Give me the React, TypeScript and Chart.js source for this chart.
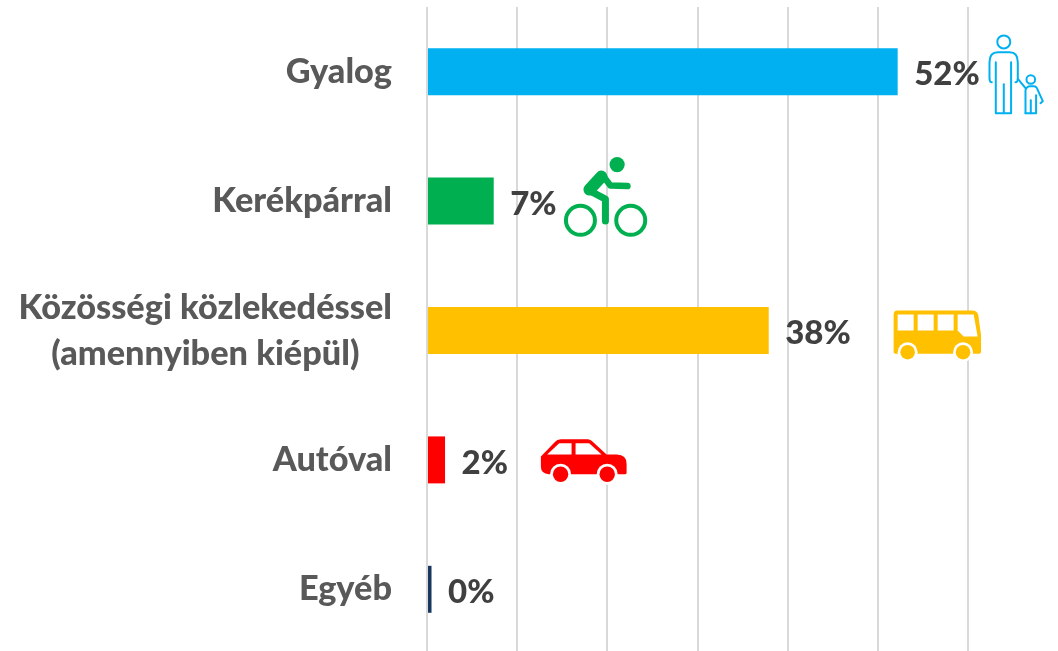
import React, { useEffect, useRef } from "react";
import { Chart, registerables } from "chart.js";

Chart.register(...registerables);

const categories: string[][] = [
  ["Gyalog"],
  ["Kerékpárral"],
  ["Közösségi közlekedéssel", "(amennyiben kiépül)\u00a0\u00a0\u00a0\u00a0"],
  ["Autóval"],
  ["Egyéb"],
];
const shares = [52.2, 7.4, 37.9, 2.0, 0.5];
const shareLabels = ["52%", "7%", "38%", "2%", "0%"];
const barColors = ["#00b0f0", "#00b050", "#ffc000", "#ff0000", "#17375e"];
const gridStops = [0, 10, 20, 30, 40, 50, 60];
const iconNames = ["person", "bike", "bus", "car"];
const iconAt = [65.3, 19.9, 56.6, 17.4];

const FONT = 'Lato, sans-serif';

type Ctx = CanvasRenderingContext2D;

const line = (c: Ctx, pts: number[][]) => {
  c.beginPath();
  pts.forEach(([x, y], i) => (i ? c.lineTo(x, y) : c.moveTo(x, y)));
  c.stroke();
};
const disc = (c: Ctx, x: number, y: number, r: number, color: string) => {
  c.fillStyle = color;
  c.beginPath();
  c.arc(x, y, r, 0, Math.PI * 2);
  c.fill();
};
const poly = (c: Ctx, pts: number[][], color: string) => {
  c.fillStyle = color;
  c.beginPath();
  pts.forEach(([x, y], i) => (i ? c.lineTo(x, y) : c.moveTo(x, y)));
  c.closePath();
  c.fill();
};

// Icon outlines, relative to each icon's anchor point.
const icons: Record<string, (c: Ctx) => void> = {
  person(c) {
    c.translate(-1017, -71.5);
    c.strokeStyle = "#00b0f0";
    c.lineWidth = 2;
    c.lineCap = "round";
    c.lineJoin = "round";
    c.beginPath();
    c.arc(1005, 41.7, 6.5, 0, Math.PI * 2);
    c.stroke();
    c.beginPath();
    c.moveTo(993, 82);
    c.quadraticCurveTo(990.7, 82, 990.7, 78);
    c.lineTo(990.7, 62);
    c.quadraticCurveTo(990.7, 52, 999, 52);
    c.lineTo(1011, 52);
    c.quadraticCurveTo(1019, 52, 1019, 62);
    c.lineTo(1019, 78);
    c.quadraticCurveTo(1019, 82, 1016.7, 82);
    c.stroke();
    line(c, [[997, 62], [997, 113], [1012.3, 113], [1012.3, 62]]);
    line(c, [[1005, 84], [1005, 113]]);
    c.beginPath();
    c.arc(1032, 79.3, 4.3, 0, Math.PI * 2);
    c.stroke();
    line(c, [[1019.3, 79], [1026.7, 88]]);
    c.beginPath();
    c.moveTo(1026.7, 113);
    c.lineTo(1026.7, 90);
    c.quadraticCurveTo(1028, 86, 1031, 86);
    c.lineTo(1035, 86);
    c.quadraticCurveTo(1038, 86, 1039, 90);
    c.lineTo(1044, 101);
    c.lineTo(1041.7, 103);
    c.stroke();
    line(c, [[1037.3, 95], [1037.3, 113], [1026.7, 113]]);
    line(c, [[1032, 100], [1032, 113]]);
  },
  bike(c) {
    c.translate(-606, -201.5);
    const g = "#00b050";
    disc(c, 616.7, 165, 7.6, g);
    c.strokeStyle = g;
    c.lineCap = "round";
    c.lineJoin = "round";
    c.lineWidth = 4;
    c.beginPath();
    c.arc(580, 220.7, 14.5, 0, Math.PI * 2);
    c.stroke();
    c.beginPath();
    c.arc(630.3, 220.7, 14.5, 0, Math.PI * 2);
    c.stroke();
    c.lineWidth = 12;
    line(c, [[601, 177], [589, 190]]);
    c.lineWidth = 6.5;
    line(c, [[604, 178], [610, 186], [627, 186.5]]);
    c.lineWidth = 7;
    line(c, [[589, 191], [605, 199.5], [605, 221.5]]);
  },
  bus(c) {
    c.translate(-937, -330);
    const y = "#ffc000";
    c.fillStyle = y;
    c.beginPath();
    c.moveTo(893.3, 314);
    c.quadraticCurveTo(893.3, 310, 897, 310);
    c.lineTo(972, 310);
    c.quadraticCurveTo(977, 310, 978, 315);
    c.lineTo(980.7, 335);
    c.lineTo(980.7, 351);
    c.quadraticCurveTo(980.7, 353.3, 978, 353.3);
    c.lineTo(896, 353.3);
    c.quadraticCurveTo(893.3, 353.3, 893.3, 351);
    c.closePath();
    c.fill();
    const w = "#ffffff";
    [897.3, 917.3, 937.3].forEach((x) =>
      poly(c, [[x, 314], [x + 16, 314], [x + 16, 330], [x, 330]], w)
    );
    poly(c, [[957.3, 314], [973.3, 314], [977.3, 336], [963.3, 336], [957.3, 330]], w);
    [907.3, 962.7].forEach((x) => {
      disc(c, x, 351.7, 10, w);
      disc(c, x, 351.7, 7.3, y);
    });
  },
  car(c) {
    c.translate(-584, -460);
    const r = "#ff0000";
    c.fillStyle = r;
    c.beginPath();
    c.moveTo(541, 456.7);
    c.lineTo(555, 442);
    c.quadraticCurveTo(557, 439.3, 561, 439.3);
    c.lineTo(588, 439.3);
    c.quadraticCurveTo(590, 439.3, 592, 441);
    c.lineTo(606.7, 454.7);
    c.lineTo(617, 454.7);
    c.quadraticCurveTo(626.7, 455, 626.7, 464);
    c.lineTo(626.7, 473);
    c.quadraticCurveTo(626.7, 474.3, 625, 474.3);
    c.lineTo(549, 474.3);
    c.quadraticCurveTo(541, 474, 541, 466.7);
    c.closePath();
    c.fill();
    const w = "#ffffff";
    poly(c, [[547.3, 454.7], [559.3, 443.3], [571.7, 443.3], [571.7, 454.7]], w);
    poly(c, [[575.7, 443.3], [589.3, 443.3], [601.7, 454.7], [575.7, 454.7]], w);
    [560.7, 607.3].forEach((x) => {
      disc(c, x, 474.3, 10.5, w);
      disc(c, x, 474.3, 7.7, r);
    });
  },
};

const extrasPlugin = {
  id: "extras",
  afterDatasetsDraw(chart: any) {
    const { ctx, scales } = chart;
    const { x, y } = scales;
    ctx.save();
    ctx.font = `900 33px ${FONT}`;
    ctx.fillStyle = "#404040";
    ctx.textAlign = "left";
    ctx.textBaseline = "middle";
    shares.forEach((v, i) => {
      ctx.fillText(shareLabels[i], x.getPixelForValue(v) + 16.5, y.getPixelForValue(i) + 3);
    });
    ctx.restore();
    iconNames.forEach((name, i) => {
      ctx.save();
      ctx.translate(x.getPixelForValue(iconAt[i]), y.getPixelForValue(i));
      icons[name](ctx);
      ctx.restore();
    });
  },
};

export default function App() {
  const ref = useRef<HTMLCanvasElement>(null);
  useEffect(() => {
    const chart = new Chart(ref.current!, {
      type: "bar",
      data: {
        labels: categories,
        datasets: [
          {
            data: shares,
            backgroundColor: barColors,
            barPercentage: 1,
            categoryPercentage: 0.363,
          },
        ],
      },
      options: {
        indexAxis: "y",
        responsive: false,
        animation: false,
        layout: { padding: { top: 7, right: 90, bottom: 0, left: 0 } },
        plugins: { legend: { display: false }, tooltip: { enabled: false } },
        scales: {
          x: {
            min: 0,
            max: 60,
            afterBuildTicks: (s: any) => {
              s.ticks = gridStops.map((value) => ({ value }));
            },
            afterFit: (s: any) => {
              s.paddingLeft = 0;
              s.paddingRight = 0;
              s.height = 0;
            },
            ticks: { display: false },
            border: { display: false },
            grid: { color: "#d9d9d9", lineWidth: 2, drawTicks: false },
          },
          y: {
            type: "category",
            afterFit: (s: any) => {
              s.width = 427;
              s.paddingTop = 0;
              s.paddingBottom = 0;
            },
            ticks: {
              color: "#595959",
              padding: 35,
              autoSkip: false,
              font: { family: FONT, weight: "900", size: 34.3, lineHeight: 1.34 },
            },
            border: { display: false },
            grid: { display: false, drawTicks: false },
          },
        },
      },
      plugins: [extrasPlugin],
    } as any);
    return () => chart.destroy();
  }, []);
  return (
    <div style={{ position: "fixed", left: 0, top: 0, width: 1058, height: 651, overflow: "hidden", background: "#fff" }}>
      <canvas ref={ref} width={1058} height={654} style={{ display: "block" }} />
    </div>
  );
}
